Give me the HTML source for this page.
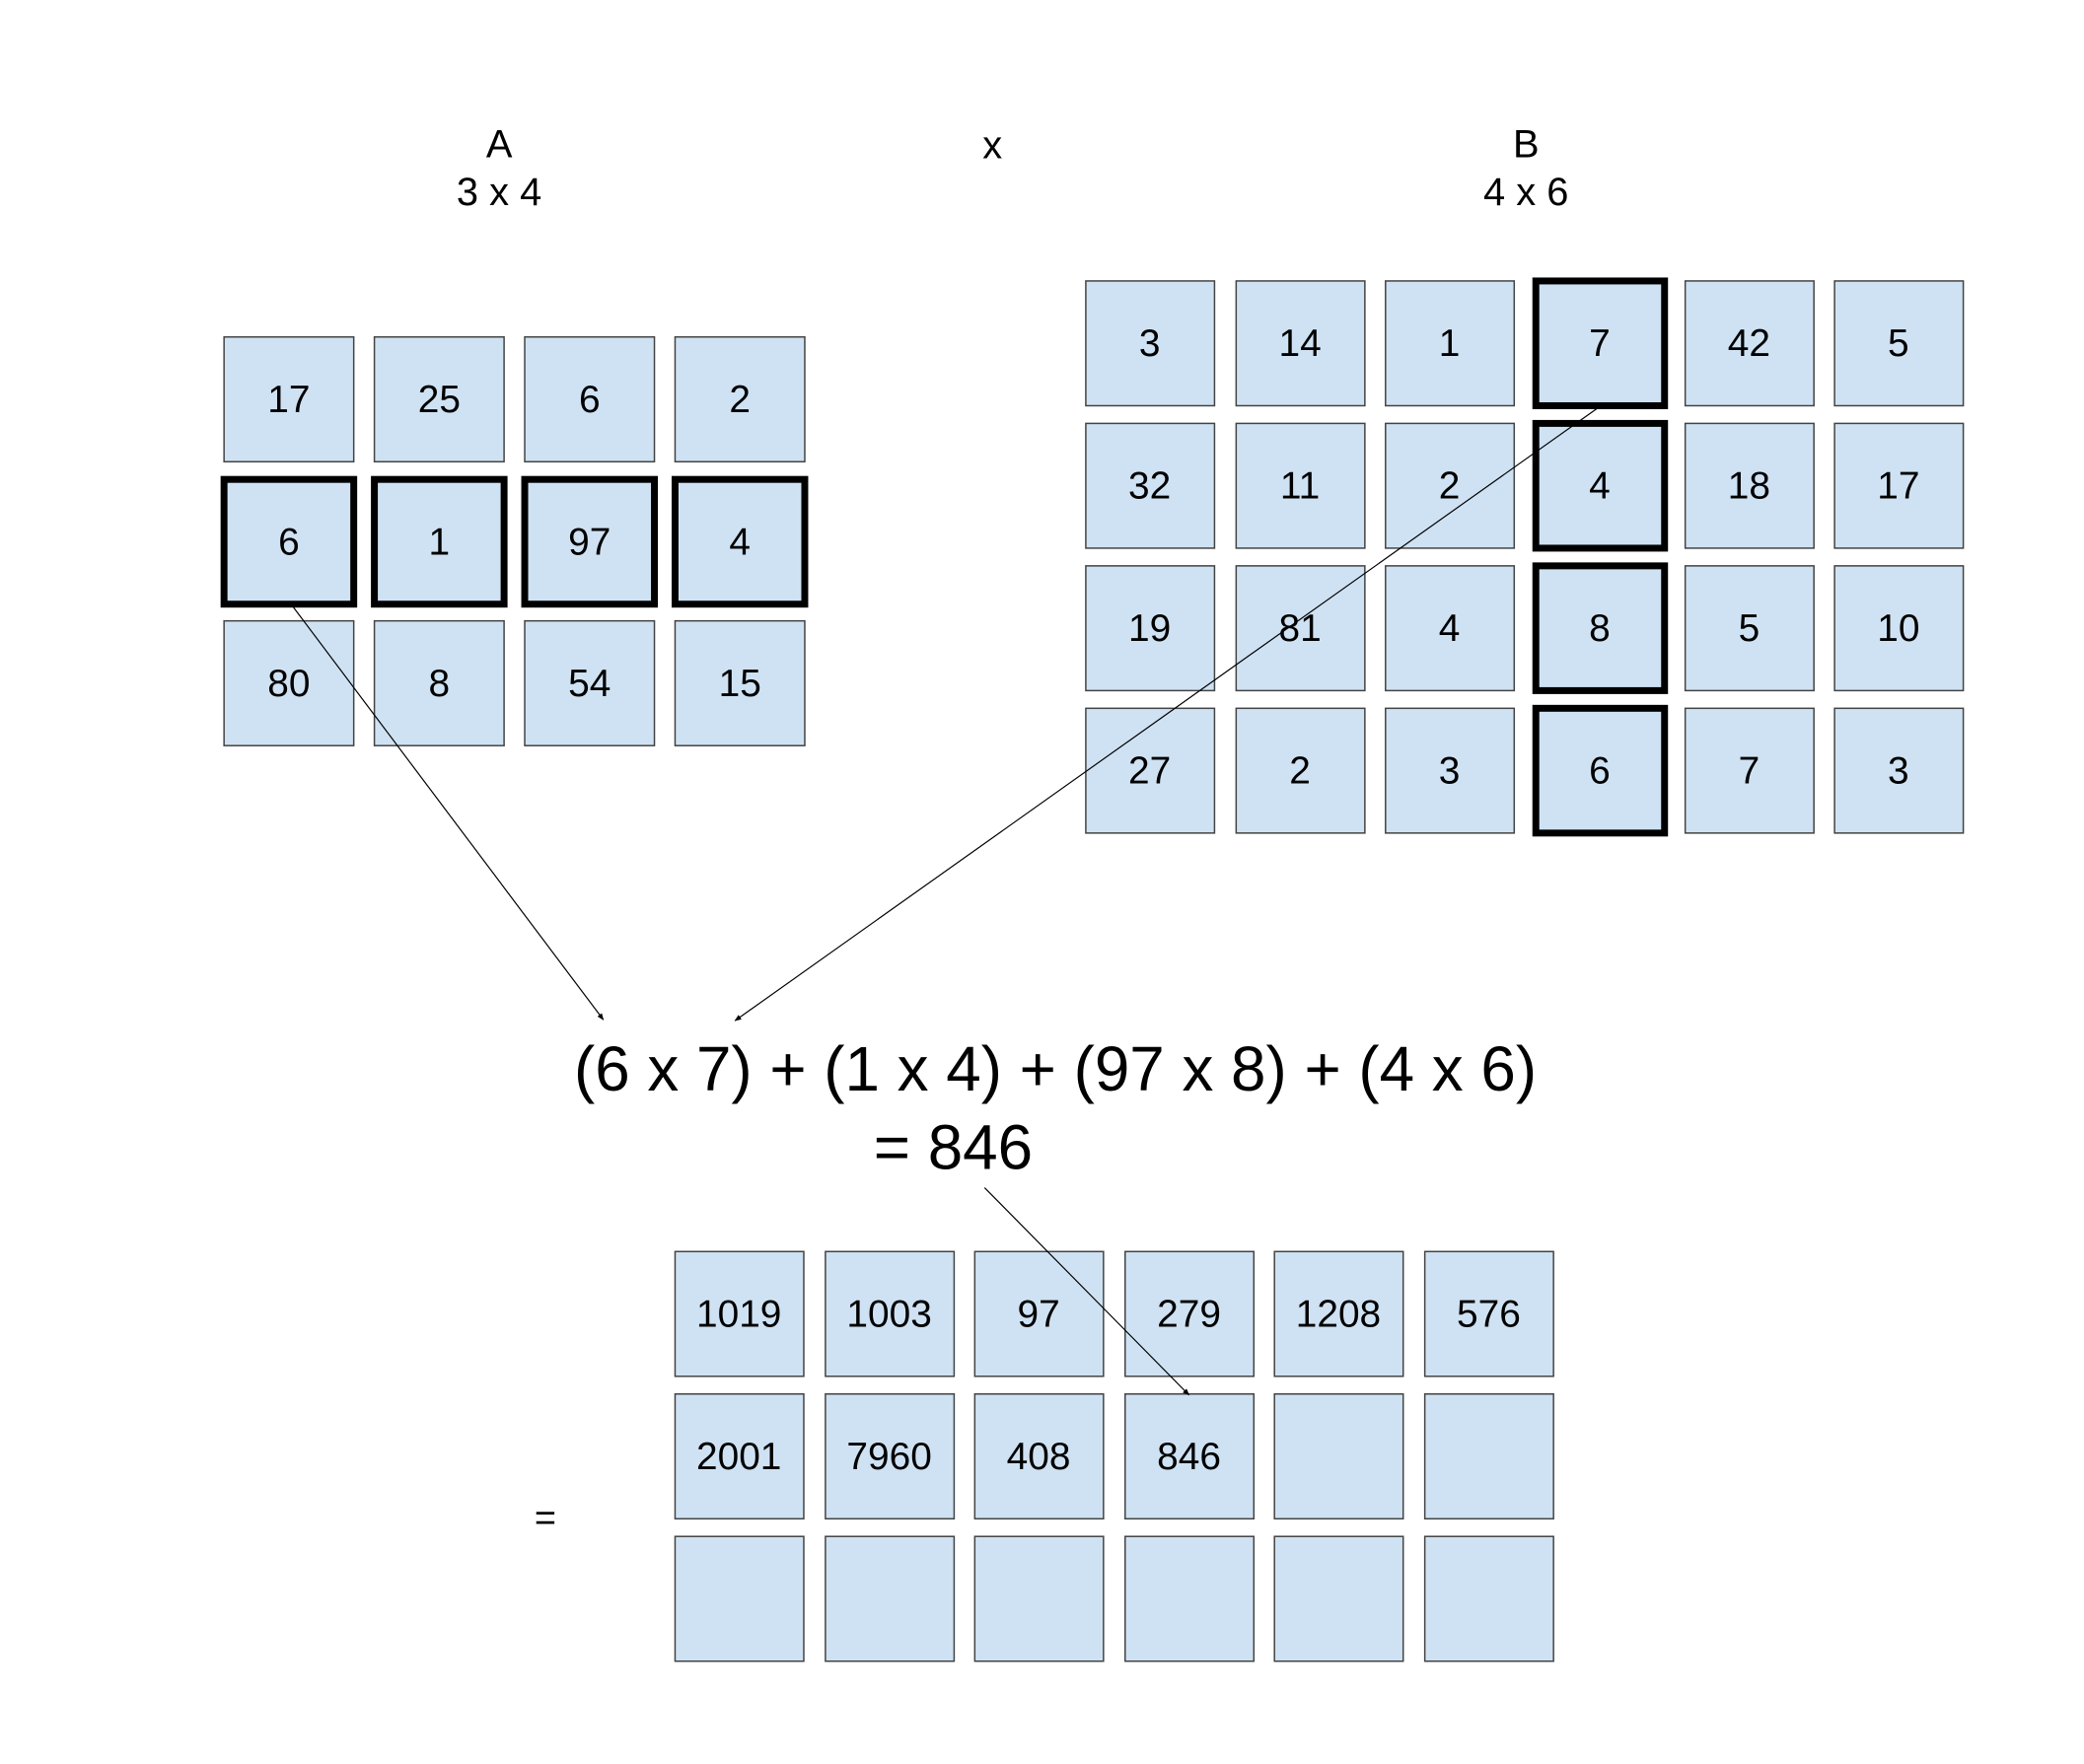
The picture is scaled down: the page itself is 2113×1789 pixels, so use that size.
<!DOCTYPE html>
<html><head><meta charset="utf-8"><style>
html,body{margin:0;padding:0;background:#fff;}
svg{display:block;}
text{font-family:"Liberation Sans",Arial,sans-serif;fill:#000;}
</style></head><body>
<svg width="2113" height="1789" viewBox="0 0 2113 1789" xmlns="http://www.w3.org/2000/svg">
<defs>
<marker id="ah" viewBox="0 0 10 10" refX="9" refY="5" markerWidth="7" markerHeight="7" orient="auto-start-reverse" markerUnits="userSpaceOnUse">
<path d="M0,1 L10,5 L0,9 z" fill="#000"/>
</marker>
<style>
.c{fill:#cfe2f3;stroke:#434343;stroke-width:1.5;}
.b{fill:#cfe2f3;stroke:#000;stroke-width:7;}
.n{font-size:39px;text-anchor:middle;dominant-baseline:central;}
.l{font-size:40px;text-anchor:middle;}
</style>
</defs>
<g transform="scale(0.9963)">
<text class="l" x="508" y="160">A</text>
<text class="l" x="508" y="209">3 x 4</text>
<text class="l" x="1010" y="161">x</text>
<text class="l" x="1553" y="160">B</text>
<text class="l" x="1553" y="209">4 x 6</text>

<!-- A -->
<g>
<rect class="c" x="228" y="343" width="132" height="127"/><text class="n" x="294" y="407">17</text>
<rect class="c" x="381" y="343" width="132" height="127"/><text class="n" x="447" y="407">25</text>
<rect class="c" x="534" y="343" width="132" height="127"/><text class="n" x="600" y="407">6</text>
<rect class="c" x="687" y="343" width="132" height="127"/><text class="n" x="753" y="407">2</text>

<rect class="b" x="228" y="488" width="132" height="127"/><text class="n" x="294" y="552">6</text>
<rect class="b" x="381" y="488" width="132" height="127"/><text class="n" x="447" y="552">1</text>
<rect class="b" x="534" y="488" width="132" height="127"/><text class="n" x="600" y="552">97</text>
<rect class="b" x="687" y="488" width="132" height="127"/><text class="n" x="753" y="552">4</text>

<rect class="c" x="228" y="632" width="132" height="127"/><text class="n" x="294" y="696">80</text>
<rect class="c" x="381" y="632" width="132" height="127"/><text class="n" x="447" y="696">8</text>
<rect class="c" x="534" y="632" width="132" height="127"/><text class="n" x="600" y="696">54</text>
<rect class="c" x="687" y="632" width="132" height="127"/><text class="n" x="753" y="696">15</text>
</g>

<!-- B -->
<g>
<rect class="c" x="1105" y="286" width="131" height="127"/><text class="n" x="1170" y="350">3</text>
<rect class="c" x="1258" y="286" width="131" height="127"/><text class="n" x="1323" y="350">14</text>
<rect class="c" x="1410" y="286" width="131" height="127"/><text class="n" x="1475" y="350">1</text>
<rect class="b" x="1563" y="286" width="131" height="127"/><text class="n" x="1628" y="350">7</text>
<rect class="c" x="1715" y="286" width="131" height="127"/><text class="n" x="1780" y="350">42</text>
<rect class="c" x="1867" y="286" width="131" height="127"/><text class="n" x="1932" y="350">5</text>

<rect class="c" x="1105" y="431" width="131" height="127"/><text class="n" x="1170" y="495">32</text>
<rect class="c" x="1258" y="431" width="131" height="127"/><text class="n" x="1323" y="495">11</text>
<rect class="c" x="1410" y="431" width="131" height="127"/><text class="n" x="1475" y="495">2</text>
<rect class="b" x="1563" y="431" width="131" height="127"/><text class="n" x="1628" y="495">4</text>
<rect class="c" x="1715" y="431" width="131" height="127"/><text class="n" x="1780" y="495">18</text>
<rect class="c" x="1867" y="431" width="131" height="127"/><text class="n" x="1932" y="495">17</text>

<rect class="c" x="1105" y="576" width="131" height="127"/><text class="n" x="1170" y="640">19</text>
<rect class="c" x="1258" y="576" width="131" height="127"/><text class="n" x="1323" y="640">81</text>
<rect class="c" x="1410" y="576" width="131" height="127"/><text class="n" x="1475" y="640">4</text>
<rect class="b" x="1563" y="576" width="131" height="127"/><text class="n" x="1628" y="640">8</text>
<rect class="c" x="1715" y="576" width="131" height="127"/><text class="n" x="1780" y="640">5</text>
<rect class="c" x="1867" y="576" width="131" height="127"/><text class="n" x="1932" y="640">10</text>

<rect class="c" x="1105" y="721" width="131" height="127"/><text class="n" x="1170" y="785">27</text>
<rect class="c" x="1258" y="721" width="131" height="127"/><text class="n" x="1323" y="785">2</text>
<rect class="c" x="1410" y="721" width="131" height="127"/><text class="n" x="1475" y="785">3</text>
<rect class="b" x="1563" y="721" width="131" height="127"/><text class="n" x="1628" y="785">6</text>
<rect class="c" x="1715" y="721" width="131" height="127"/><text class="n" x="1780" y="785">7</text>
<rect class="c" x="1867" y="721" width="131" height="127"/><text class="n" x="1932" y="785">3</text>
</g>

<!-- C -->
<g>
<rect class="c" x="687" y="1274" width="131" height="127"/><text class="n" x="752" y="1338">1019</text>
<rect class="c" x="840" y="1274" width="131" height="127"/><text class="n" x="905" y="1338">1003</text>
<rect class="c" x="992" y="1274" width="131" height="127"/><text class="n" x="1057" y="1338">97</text>
<rect class="c" x="1145" y="1274" width="131" height="127"/><text class="n" x="1210" y="1338">279</text>
<rect class="c" x="1297" y="1274" width="131" height="127"/><text class="n" x="1362" y="1338">1208</text>
<rect class="c" x="1450" y="1274" width="131" height="127"/><text class="n" x="1515" y="1338">576</text>

<rect class="c" x="687" y="1419" width="131" height="127"/><text class="n" x="752" y="1483">2001</text>
<rect class="c" x="840" y="1419" width="131" height="127"/><text class="n" x="905" y="1483">7960</text>
<rect class="c" x="992" y="1419" width="131" height="127"/><text class="n" x="1057" y="1483">408</text>
<rect class="c" x="1145" y="1419" width="131" height="127"/><text class="n" x="1210" y="1483">846</text>
<rect class="c" x="1297" y="1419" width="131" height="127"/>
<rect class="c" x="1450" y="1419" width="131" height="127"/>

<rect class="c" x="687" y="1564" width="131" height="127"/>
<rect class="c" x="840" y="1564" width="131" height="127"/>
<rect class="c" x="992" y="1564" width="131" height="127"/>
<rect class="c" x="1145" y="1564" width="131" height="127"/>
<rect class="c" x="1297" y="1564" width="131" height="127"/>
<rect class="c" x="1450" y="1564" width="131" height="127"/>
</g>

<text x="555" y="1558" style="font-size:38px" text-anchor="middle">=</text>

<text x="1074" y="1110" style="font-size:64px" text-anchor="middle">(6 x 7) + (1 x 4) + (97 x 8) + (4 x 6)</text>
<text x="970" y="1190" style="font-size:64px" text-anchor="middle">= 846</text>

<g stroke="#000" stroke-width="1.2" fill="none">
<line x1="297" y1="616" x2="614" y2="1038" marker-end="url(#ah)"/>
<line x1="1625" y1="416" x2="748" y2="1039" marker-end="url(#ah)"/>
<line x1="1002" y1="1209" x2="1210" y2="1420" marker-end="url(#ah)"/>
</g>
</g>
</svg>
</body></html>
